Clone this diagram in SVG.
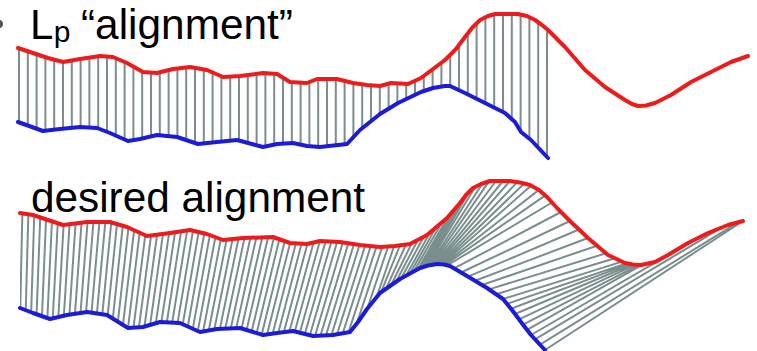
<svg xmlns="http://www.w3.org/2000/svg" width="757" height="351" viewBox="0 0 757 351">
<style>
.lbl{font-family:"Liberation Sans",Arial,sans-serif;fill:#000}
.red{fill:none;stroke:#ec1c1c;stroke-width:4;stroke-linejoin:round;stroke-linecap:round}
.blue{fill:none;stroke:#1c1cd8;stroke-width:4;stroke-linejoin:round;stroke-linecap:round}
.hatch{fill:none;stroke:#7a8e8e;stroke-width:2}
</style>
<defs>
<clipPath id="clipTop">
<path d="M18,48 L33,53 L48,58 L63,62 L80,59 L100,56 L113,57 L127,63 L143,72 L157,73 L173,69 L190,67 L207,70 L223,77 L240,76 L263,73 L277,74 L290,82 L307,83 L317,79 L337,79 L353,83 L367,85 L380,86 L391,83 L408,84 L421,78 L445,60 L456,49 L465,37 L472,28 L480,20 L488,16 L495,14 L518,14 L527,16 L535,20 L542,25 L548,30 L548,158 L531,140 L521,132 L515,122 L505,113 L485,103 L465,93 L450,86 L445,86 L421,92 L398,103 L380,114 L360,130 L347,144 L320,147 L307,146 L293,143 L277,144 L263,147 L237,140 L217,142 L198,144 L177,137 L157,135 L140,139 L128,141 L110,133 L97,128 L80,127 L60,129 L43,131 L18,122 Z"/>
</clipPath>
<clipPath id="clipBot">
<path d="M20,213 L33,215 L48,220 L63,225 L87,222 L110,222 L127,227 L147,236 L170,233 L190,230 L207,234 L223,240 L243,238 L273,237 L290,243 L307,244 L320,241 L340,242 L360,245 L380,247 L395,246 L410,244 L427,235 L447,218 L460,203 L460,266 L450,266 L437,264 L420,268 L400,279 L380,293 L367,309 L358,322 L350,332 L333,335 L313,336 L293,331 L277,333 L263,335 L240,328 L217,329 L200,332 L180,323 L160,322 L143,327 L128,328 L107,315 L87,312 L67,315 L50,319 L33,313 L20,308 Z"/>
</clipPath>
</defs>
<rect width="757" height="351" fill="#fff"/>
<circle cx="-1" cy="24" r="4" fill="#555"/>
<g id="label-top">
<text class="lbl" x="30" y="38.5" font-size="42">L<tspan font-size="30" dx="0.5" dy="3">p</tspan></text>
<text class="lbl" x="81" y="38.5" font-size="42" textLength="212" lengthAdjust="spacingAndGlyphs">“alignment”</text>
</g>
<g id="label-bottom">
<text class="lbl" x="31" y="212" font-size="42" textLength="334" lengthAdjust="spacingAndGlyphs">desired alignment</text>
</g>
<g id="connectors">
<path class="hatch" clip-path="url(#clipTop)" d="M19 0V180M27.8 0V180M36.6 0V180M45.4 0V180M54.2 0V180M63 0V180M71.8 0V180M80.6 0V180M89.4 0V180M98.2 0V180M107 0V180M115.8 0V180M124.6 0V180M133.4 0V180M142.2 0V180M151 0V180M159.8 0V180M168.6 0V180M177.4 0V180M186.2 0V180M195 0V180M203.8 0V180M212.6 0V180M221.4 0V180M230.2 0V180M239 0V180M247.8 0V180M256.6 0V180M265.4 0V180M274.2 0V180M283 0V180M291.8 0V180M300.6 0V180M309.4 0V180M318.2 0V180M327 0V180M335.8 0V180M344.6 0V180M353.4 0V180M362.2 0V180M371 0V180M379.8 0V180M388.6 0V180M397.4 0V180M406.2 0V180M415 0V180M423.8 0V180M432.6 0V180M441.4 0V180M450.2 0V180M459 0V180M467.8 0V180M476.6 0V180M485.4 0V180M494.2 0V180M503 0V180M511.8 0V180M520.6 0V180M529.4 0V180M538.2 0V180M547 0V180"/>
<path class="hatch" clip-path="url(#clipBot)" d="M23.1 180L18.9 370M29.3 180L24.1 370M35.4 180L29.3 370M41.6 180L34.5 370M47.7 180L39.7 370M53.9 180L44.9 370M60 180L50.1 370M66.2 180L55.3 370M72.3 180L60.5 370M78.5 180L65.7 370M84.6 180L70.9 370M90.8 180L76.1 370M96.9 180L81.3 370M103.1 180L86.5 370M109.2 180L91.7 370M115.4 180L96.9 370M121.5 180L102.1 370M127.7 180L107.3 370M133.8 180L112.5 370M140 180L117.7 370M146.1 180L122.9 370M152.3 180L128.1 370M158.4 180L133.3 370M164.6 180L138.5 370M170.7 180L143.7 370M176.9 180L148.9 370M183 180L154.1 370M189.2 180L159.3 370M195.3 180L164.5 370M201.5 180L169.7 370M207.6 180L174.9 370M213.8 180L180.1 370M219.9 180L185.3 370M226.1 180L190.5 370M232.2 180L195.7 370M238.4 180L200.9 370M244.5 180L206.1 370M250.7 180L211.3 370M256.8 180L216.5 370M263 180L221.7 370M269.1 180L226.9 370M275.3 180L232.1 370M281.4 180L237.3 370M287.6 180L242.5 370M293.7 180L247.7 370M299.9 180L252.9 370M306 180L258.1 370M312.2 180L263.3 370M318.3 180L268.5 370M324.5 180L273.7 370M330.6 180L278.9 370M336.8 180L284.1 370M342.9 180L289.3 370M349.1 180L294.5 370M355.2 180L299.7 370M361.4 180L304.9 370M367.5 180L310.1 370M373.7 180L315.3 370M379.8 180L320.5 370M386 180L325.7 370M392.1 180L330.9 370M398.3 180L336.1 370M404.4 180L341.3 370M410.6 180L346.5 370M416.7 180L351.7 370"/>
<path class="hatch" d="M400 245.3L381 292.3M406 244.5L386 288.8M412 242.9L391 285.3M418 239.8L396 281.8M424 236.6L401 278.5M430 232.5L406 275.7M436 227.4L410 273.5M442 222.3L414 271.3M448 216.8L418 269.1M454 209.9L421 267.8M461 201.8L423 267.3M468 193.8L425 266.8M475 187.2L427 266.4M482 184.3L429 265.9M489 181.4L431 265.4M496 181L433 264.9M503 181L435 264.5M510 181L437 264M517 182.4L438.5 264.2M524 183.8L440 264.5M531 185.7L441.5 264.7M538 190.6L443 264.9M545 195.6L444.5 265.2M552 202.5L447 265.5M561 212L454 268.4M570 221L461 272.5M579 229.5L468 276.6M588 238L475 280.8M597 245.7L482 285M606 253.3L489 289.4M615 258.3L496 294.2M622 261.6L503 299M627 263.3L507 303.9M630 263.6L511 308.8M633 264L515 314M636 264.4L519 319.3M639 264.8L523 324.6M642 264.8L527 329.8M695 239.5L531 335M722 227.4L535 339.3M738 222.3L540 344.6M743 221L545 350"/>
</g>
<g id="curve-top-red"><polyline class="red" points="18,48 33,53 48,58 63,62 80,59 100,56 113,57 127,63 143,72 157,73 173,69 190,67 207,70 223,77 240,76 263,73 277,74 290,82 307,83 317,79 337,79 353,83 367,85 380,86 391,83 408,84 421,78 445,60 456,49 465,37 472,28 480,20 488,16 495,14 518,14 527,16 535,20 542,25 548,30 556,38 565,47 585,70 605,87 625,100 632,104 638,106 646,105.5 655,103 671,95 691,82 711,72 731,62 748,56"/></g>
<g id="curve-top-blue"><polyline class="blue" points="18,122 43,131 60,129 80,127 97,128 110,133 128,141 140,139 157,135 177,137 198,144 217,142 237,140 263,147 277,144 293,143 307,146 320,147 347,144 360,130 380,114 398,103 421,92 433,88 445,86 450,86 465,93 485,103 505,113 515,122 521,132 531,140 548,158"/></g>
<g id="curve-bottom-red"><polyline class="red" points="20,213 33,215 48,220 63,225 87,222 110,222 127,227 147,236 170,233 190,230 207,234 223,240 243,238 273,237 290,243 307,244 320,241 340,242 360,245 380,247 395,246 410,244 427,235 447,218 460,203 466,195 473,188 481,184 490,181 510,181 520,182.5 530,185 539,190 547,197 557,208 571,222 588,238 608,255 625,263 633,264.5 641,265 655,262 668,255 688,243 708,233 728,225 743,221"/></g>
<g id="curve-bottom-blue"><polyline class="blue" points="20,308 33,313 50,319 67,315 87,312 107,315 128,328 143,327 160,322 180,323 200,332 217,329 240,328 263,335 277,333 293,331 313,336 333,335 350,332 358,322 367,309 380,293 400,279 420,268 428,265.5 437,264 444,264.5 450,266 467,276 487,288 503,299 512,310 521,322 531,335 545,350"/></g>
</svg>
